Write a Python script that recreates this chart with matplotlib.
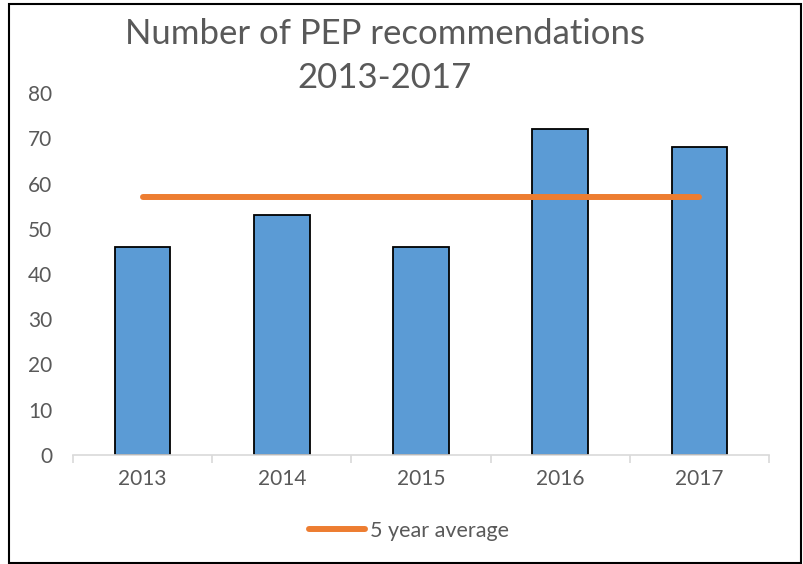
import numpy as np
import matplotlib.pyplot as plt
from matplotlib.patches import Rectangle

years = ['2013', '2014', '2015', '2016', '2017']
recs = [46, 53, 46, 72, 68]
avg = [57, 57, 57, 57, 57]

plt.rcParams['font.family'] = ['Lato', 'DejaVu Sans']
grey = '#595959'

fig = plt.figure(figsize=(8.04, 5.64), dpi=100)
ax = fig.add_axes([73/804, 1 - 455/564, (769-73)/804, (455-93)/564])

x = np.arange(len(years))
ax.bar(x, recs, width=0.4, color='#5B9BD5', edgecolor='black', linewidth=1.3, zorder=2)
ax.plot(x, avg, color='#ED7D31', linewidth=4.3, solid_capstyle='round', zorder=3,
        label='5 year average')

ax.set_xlim(-0.5, len(years) - 0.5)
ax.set_ylim(0, 80)
ax.set_yticks(range(0, 81, 10))
ax.set_xticks(x)
ax.set_xticklabels(years)
ax.set_xticks(np.arange(-0.5, len(years)), minor=True)

for s in ['top', 'right', 'left']:
    ax.spines[s].set_visible(False)
ax.spines['bottom'].set_color('#D9D9D9')
ax.spines['bottom'].set_linewidth(1.2)
ax.tick_params(axis='x', which='major', length=0, pad=10, labelsize=15, labelcolor=grey)
ax.tick_params(axis='x', which='minor', length=6, color='#D9D9D9', width=1.2)
ax.tick_params(axis='y', length=0, pad=15, labelsize=15, labelcolor=grey)

fig.text(385/804, 1 - 56/564, 'Number of PEP recommendations\n2013-2017', ha='center', va='center',
         fontsize=25, color=grey, linespacing=1.45)

fig.legend(loc='center', bbox_to_anchor=(409/804, 1 - 531/564), frameon=False,
           fontsize=15.5, labelcolor=grey, handlelength=2.6, handletextpad=0.2)

fig.add_artist(Rectangle((9/804, 1/564), 792/804, 559/564, transform=fig.transFigure,
                         fill=False, edgecolor='black', linewidth=1.5))

fig.savefig('out.png', dpi=100)
